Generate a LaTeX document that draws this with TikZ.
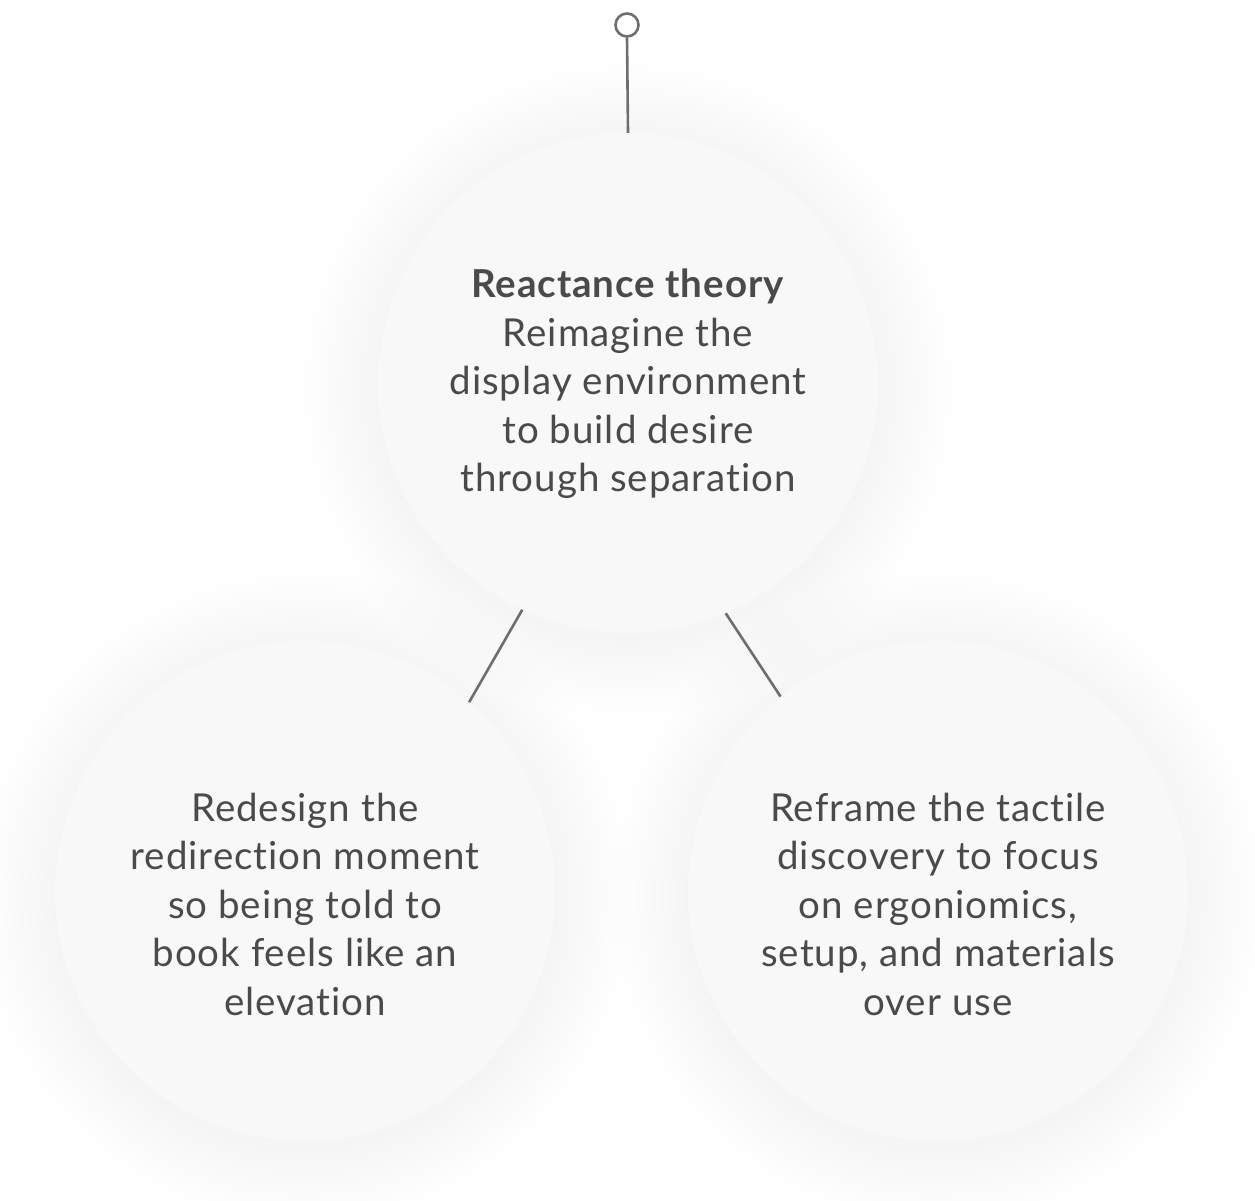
\documentclass[tikz,border=0pt]{standalone}
\usepackage{fontspec}
\setmainfont{Lato}[Ligatures=NoCommon, LetterSpace=2.5]
\definecolor{txt}{HTML}{4A4A4A}
\definecolor{lin}{HTML}{6E6E6E}
\definecolor{disc}{HTML}{F8F8F8}
\tikzset{
  bubble/.style={circle, fill=disc, minimum size=500pt, inner sep=0pt},
  label/.style={text=txt, align=center, font=\fontsize{38.5}{48.5}\selectfont},
  conn/.style={draw=lin, line width=2.6pt},
}
\newcommand{\halo}[2]{%
  \foreach \i in {1,...,10}{
    \fill[black, opacity=0.004] (#1,#2+6) circle ({246+8*\i});
  }%
}
\begin{document}
\begin{tikzpicture}[x=1pt,y=-1pt]
\useasboundingbox (0,0) rectangle (1255,1200);
\fill[white] (0,0) rectangle (1255,1200);
% lower circles
\halo{305}{891}
\halo{938}{891}
\node[bubble] (left) at (305,891) {};
\node[bubble] (right) at (938,891) {};
% top circle
\halo{628}{383}
\node[bubble] (top) at (628,383) {};
% texts
\node[label] (ttop) at (628,384) {\textbf{Reactance theory}\\Reimagine the\\display environment\\to build desire\\through separation};
\node[label] (tleft) at (305,904) {Redesign the\\redirection moment\\so being told to\\book feels like an\\elevation};
\node[label] (tright) at (938,904) {Reframe the tactile\\discovery to focus\\on ergoniomics,\\setup, and materials\\over use};
% knob
\node[circle, draw=lin, line width=2.6pt, fill=white, minimum size=23pt, inner sep=0pt] (knob) at (627,25) {};
\draw[conn] (knob.south) -- (top.north);
\draw[conn] (top.245.5) -- (left.49.4);
\draw[conn] (top.293.2) -- (right.129.2);
\end{tikzpicture}
\end{document}
